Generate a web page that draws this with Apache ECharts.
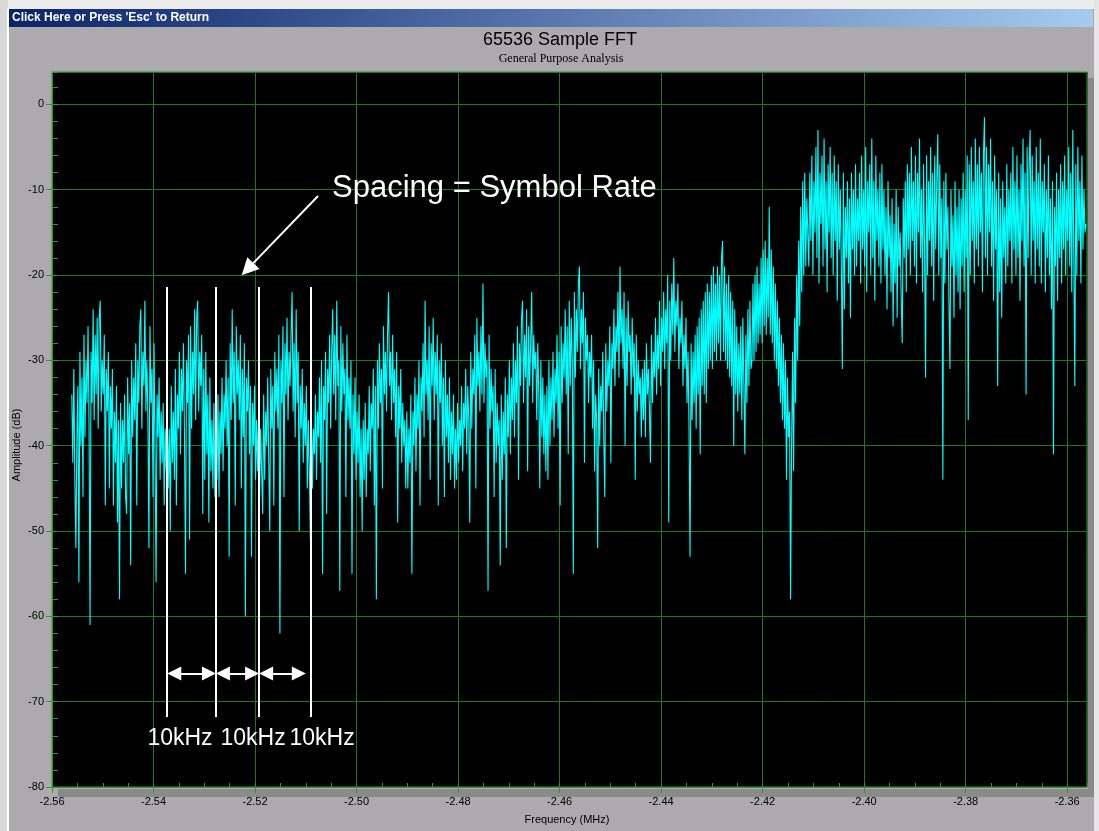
<!DOCTYPE html>
<html><head><meta charset="utf-8">
<script src="https://cdn.jsdelivr.net/npm/echarts@6/dist/echarts.min.js"></script>
<style>html,body{margin:0;padding:0;background:#acaaac;}#c{width:1099px;height:831px;}</style>
</head><body><div id="c"></div>
<script>
// FFT bins: frequency of bin i = FREQ_START + i * FREQ_STEP (MHz)
const FREQ_START = -2.5561;
const FREQ_STEP = 0.0002;

// amplitude (dB), left to right
const ampSegA = [
 -34,-42,-31,-44,-52,-39,-33,-56,-29,-40,-32,-46,-27,-39,-30,-35,-26,-38,-61,-29,-35,-24,-37,-27,-34,-25,-38,-25,-23,-36,-30,-34,-27,-47,-31,-36,-29,-45,-33,-38,-31,-47,-36,-42,-33,-49,-37,
 -58,-35,-45,-37,-42,-34,-46,-48,-32,-41,-35,-54,-30,-39,-32,-37,-28,-47,-30,-35,-26,-24,-38,-29,-33,-23,-36,-30,-37,-52,-26,-35,-31,-46,-28,-41,-56,-34,-39,-32,-44,-36,-42,-35,-47,-38,-43,
 -36,-45,-38,-50,-33,-42,-36,-44,-31,-47,-34,-38,-29,-41,-31,-36,-28,-39,-55,-30,-35,-27,-51,-26,-38,-29,-34,-24,-37,-25,-23,-36,-29,-33,-27,-48,-31,-44,-29,-41,-34,-49,-32,-43,-37,-45,-35,-46,
 -38,-44,-34,-46,-36,-41,-32,-43,-34,-38,-30,-40,-32,-53,-28,-37,-24,-35,-29,-47,-26,-34,-30,-37,-27,-45,-31,-39,-28,-60,-32,-36,-30,-41,-33,-53,-35,-40,-33,-44,-37,-43
];
const ampSegB = [
 -36,-46,-38,-43,-48,-34,-44,-36,-40,-32,-42,-50,-31,-38,-33,-47,-29,-36,-31,-38,-27,-62,-30,-35,-26,-46,-28,-34,-25,-37,-29,-33,-27,-22,-36,-28,-39,-24,-35,-29,-50,-33,-38,-31,-42,-35,-40,-33,-45,-37,-43,
 -51,-36,-45,-38,-41,-34,-44,-36,-39,-32,-42,-30,-55,-33,-37,-29,-48,-31,-35,-27,-38,-29,-24,-34,-27,-37,-23,-33,-30,-57,-26,-36,-28,-34,-31,-46,-27,-37,-32,-38,-30,-55,-34,-41,-32,-44,-36,-42,-34,-46,-38,
 -50,-37,-44,-35,-46,-38,-41,-33,-43,-35,-38,-31,-47,-33,-58,-30,-38,-28,-35,-31,-45,-26,-34,-29,-36,-27,-22,-33,-29,-37,-27,-35,-31,-39,-29,-49,-33,-38,-31,-42,-35,-40,-37,-45,
 -36,-45,-38,-42,-34,-55,-36,-40,-32,-43,-34,-38,-30,-47,-32,-36,-28,-39,-23,-34,-30,-37,-26,-44,-28,-33,-25,-37,-29,-34,-27,-47,-30,-35,-28,-40,-32,-46,-30,-39,-34,-42,-32,-44,-36,-41,-34,-45,-38
];
const ampSegC = [
 -44,-35,-42,-37,-40,-33,-43,-35,-38,-31,-41,-33,-37,-49,-29,-38,-31,-34,-27,-45,-25,-33,-29,-36,-26,-34,-21,-35,-28,-32,-30,-57,-27,-38,-31,-36,-33,-46,-31,-42,-35,-40,-37,
 -54,-34,-44,-36,-41,-32,-52,-34,-39,-30,-41,-32,-37,-28,-39,-30,-35,-26,-44,-28,-33,-25,-23,-35,-27,-32,-24,-43,-26,-33,-28,-22,-35,-27,-31,-29,-37,-28,-34,-45,-30,-39,-32,-41,-34,-43,
 -33,-44,-30,-40,-32,-37,-29,-39,-31,-35,-27,-38,-29,-47,-26,-35,-28,-32,-24,-34,-26,-41,-23,-33,-25,-30,-55,-22,-32,-24,-29,-21,-19,-31,-24,-28,-22,-42,-25,-30,-27,-35,-29,-32,-27,-38,-30,-43,-34,
 -37,-52,-31,-40,-33,-36,-29,-39,-46,-28,-36,-30,-33,-26,-42,-28,-31,-24,-33,-26,-29,-22,-32,-19,-28,-24,-31,-22,-40,-25,-33,-23,-29,-27,-34,-25,-32,-28,-44,-27,-36,-30,-34,-32,-39,-31
];
const ampSegD = [
 -37,-30,-39,-28,-34,-31,-36,-42,-27,-35,-29,-32,-25,-34,-27,-31,-23,-33,-25,-29,-22,-31,-24,-28,-20,-49,-23,-30,-21,-27,-18,-29,-23,-26,-21,-31,-25,-28,-23,-33,-27,-31,-25,-35,-29,-38,
 -53,-28,-37,-29,-35,-27,-38,-26,-34,-25,-41,-24,-33,-23,-34,-22,-35,-21,-31,-22,-30,-20,-31,-19,-29,-21,-30,-19,-28,-20,-30,-18,-16,-29,-19,-30,-21,-31,-20,-32,-22,-33,-23,-40,-24,-34,-26,-36,-28,
 -34,-26,-37,-25,-33,-41,-27,-35,-24,-33,-23,-31,-30,-21,-30,-20,-29,-19,-28,-21,-27,-18,-28,-17,-26,-16,-27,-18,-25,-12,-27,-17,-28,-19,-30,-21,-31,-23,-33,-25,-35,-27,-37,-28,-38,-30,-44,-32,-39,
 -36,-58,-40,-29,-43,-25,-35,-20,-30,-16,-26,-12,-22,-9,-20,-8,-19,-11
];
const ampSegE = [
 -11,-19,-8,-16,-6,-20,-9,-15,-5,-18,-3,-21,-8,-14,-6,-19,-4,-17,-9,-22,-7,-15,-5,-18,-8,
 -20,-6,-16,-9,-23,-7,-17,-10,-19,-31,-8,-24,-12,-18,-9,-21,-11,-25,-8,-17,-10,-20,-7,-19,-11,
 -16,-8,-21,-6,-17,-10,-19,-5,-22,-9,-15,-7,-20,-4,-18,-9,-23,-6,-16,-10,-19,-8,-21,-7,-17,
 -10,-20,-12,-24,-9,-18,-13,-22,-11,-26,-14,-21,-10,-25,-12,-19,-15,-23,-28,-11,-18,-9,-22,-7,-17,
 -8,-20,-5,-16,-9,-19,-6,-21,-8,-15,-4,-18,-10,-22,-7,-17,-32,-6,-20,-9,-16,-5,-19,-8,-23,
 -6,-17,-9,-3.5,-20,-7,-18,-11,-44,-9,-21,-8,-17,-12,-23,-31,-10,-19,-13,-25,-9,-20,-12,-22,-10,
 -24,-11,-19,-8,-22,-10,-18,-6,-37,-7,-20,-5,-16,-9,-21,-4,-17,-7,-19,-5,-15,-8,-22,-6,-1.5,
 -18,-5,-20,-7,-15,-4,-19,-9,-23,-6,-17,-10,-33,-8,-22,-11,-25,-9,-18,-12,-21,-7,-19,-10,-16,
 -8,-21,-5,-17,-9,-20,-6,-18,-10,-23,-7,-16,-4,-19,-8,-34,-5,-18,-7,-3,-20,-6,-16,-9,-21,
 -5,-17,-8,-19,-4,-21,-9,-15,-7,-22,-10,-18,-6,-20,-11,-24,-9,-41,-12,-19,-8,-23,-10,-18,-7,
 -21,-9,-17,-6,-20,-10,-16,-5,-19,-8,-22,-3,-18,-33,-7,-20,-5,-16,-9,-21,-6,-17,-10,-15,-14
];

// axes
const X_MIN = -2.56, X_MAX = -2.3561, X_INTERVAL = 0.02, X_MINOR = 0.005;
const Y_MIN = -80, Y_MAX = 3.8, Y_INTERVAL = 10, Y_MINOR = 2;

// annotation (data coordinates)
const markerFreqs = [-2.5373, -2.5277, -2.5192, -2.5090];
const markerSpan = [-21.4, -71.8];
const arrowLevel = -66.7;
const arrowEnds = [[-2.5373, -2.5277], [-2.5277, -2.5192], [-2.5192, -2.5100]];
const spacingLabels = ['10kHz', '10kHz', '10kHz'];
const labelFreqs = [-2.53478, -2.52039, -2.50680];
const labelLevel = -74.3;
const noteText = 'Spacing = Symbol Rate';
const noteAnchor = [-2.50483, -9.8];
const noteArrow = [[-2.50759, -10.73], [-2.52148, -19.31]];

const amp = [].concat(ampSegA, ampSegB, ampSegC, ampSegD, ampSegE);
const seriesData = amp.map((v, i) => [FREQ_START + i * FREQ_STEP, v]);

const AX = '#2f9a2f', GRIDC = '#207520', FONT = 'Liberation Sans';
const HEAD = 14, INSET = 0.00138;

const isMult = (v, s) => Math.abs(v / s - Math.round(v / s)) < 1e-6;

const markLines = [];
markerFreqs.forEach(f => markLines.push([{coord: [f, markerSpan[0]], symbol: 'none'}, {coord: [f, markerSpan[1]], symbol: 'none'}]));
arrowEnds.forEach(([a, b]) => markLines.push([
  {coord: [a + INSET, arrowLevel], symbol: 'triangle', symbolSize: HEAD},
  {coord: [b - INSET, arrowLevel], symbol: 'triangle', symbolSize: HEAD}]));
markLines.push([{coord: noteArrow[0], symbol: 'none'}, {coord: noteArrow[1], symbol: 'triangle', symbolSize: 17}]);

const option = {
  animation: false,
  backgroundColor: '#acaaac',
  grid: {left: 52, top: 72, right: 12, bottom: 44, show: true, backgroundColor: '#000', borderColor: AX, borderWidth: 1},
  xAxis: [{
    type: 'value', min: X_MIN, max: X_MAX, interval: X_INTERVAL, position: 'bottom',
    axisLine: {onZero: false, lineStyle: {color: AX}}, axisTick: {length: 6, lineStyle: {color: AX}},
    axisLabel: {color: '#000', fontSize: 11, fontFamily: FONT, margin: 9, showMaxLabel: false,
      formatter: v => isMult(v, X_INTERVAL) ? v.toFixed(2) : ''},
    splitLine: {show: true, lineStyle: {color: GRIDC}}
  }, {
    type: 'value', min: X_MIN, max: X_MAX, interval: X_MINOR, position: 'bottom',
    axisLine: {show: false, onZero: false}, axisTick: {inside: true, length: 4, lineStyle: {color: AX}},
    axisLabel: {show: false}, splitLine: {show: false}
  }],
  yAxis: [{
    type: 'value', min: Y_MIN, max: Y_MAX, interval: Y_INTERVAL, position: 'left',
    axisLine: {show: true, onZero: false, lineStyle: {color: AX}}, axisTick: {show: true, length: 6, lineStyle: {color: AX}},
    axisLabel: {color: '#000', fontSize: 11, fontFamily: FONT, margin: 8, showMaxLabel: false,
      formatter: v => isMult(v, Y_INTERVAL) ? String(Math.round(v)) : ''},
    splitLine: {show: true, lineStyle: {color: GRIDC}}
  }, {
    type: 'value', min: Y_MIN, max: Y_MAX, interval: Y_MINOR, position: 'left',
    axisLine: {show: false, onZero: false}, axisTick: {show: true, inside: true, length: 6, lineStyle: {color: AX}},
    axisLabel: {show: false}, splitLine: {show: false}
  }],
  series: [{
    type: 'line', data: seriesData, showSymbol: false, symbol: 'none',
    lineStyle: {color: '#00ffff', width: 1.1}, silent: true, emphasis: {disabled: true}, z: 3
  }, {
    type: 'line', data: [], silent: true,
    markLine: {silent: true, animation: false, label: {show: false}, emphasis: {disabled: true},
      lineStyle: {color: '#ffffff', width: 2, type: 'solid'}, data: markLines},
    z: 5
  }]
};

const chart = echarts.init(document.getElementById('c'));
chart.setOption(option);

const P = (f, v) => chart.convertToPixel({gridIndex: 0}, [f, v]);
const graphics = [
  {type: 'rect', shape: {x: 0, y: 0, width: 1099, height: 9}, style: {fill: '#ececec'}, silent: true},
  {type: 'rect', shape: {x: 0, y: 0, width: 8, height: 831}, style: {fill: '#d8d8d8'}, silent: true},
  {type: 'rect', shape: {x: 7, y: 9, width: 2, height: 822}, style: {fill: '#ffffff'}, silent: true},
  {type: 'rect', shape: {x: 1094, y: 0, width: 5, height: 831}, style: {fill: '#e6e6e6'}, silent: true},
  {type: 'rect', shape: {x: 9, y: 9, width: 1084, height: 18}, style: {fill: new echarts.graphic.LinearGradient(0, 0, 1, 0, [{offset: 0, color: '#0a246a'}, {offset: 1, color: '#a6caf0'}])}, silent: true},
  {type: 'text', x: 12, y: 18, style: {text: "Click Here or Press 'Esc' to Return", fill: '#fff', font: 'bold 12px "Liberation Sans"', verticalAlign: 'middle'}, silent: true},
  {type: 'rect', shape: {x: 1088, y: 78, width: 6, height: 719}, style: {fill: '#8a8a8a'}, silent: true},
  {type: 'rect', shape: {x: 58, y: 789, width: 1036, height: 8}, style: {fill: '#8a8a8a'}, silent: true},
  {type: 'text', x: 560, y: 40, style: {text: '65536 Sample FFT', fill: '#000', font: '18px "Liberation Sans"', align: 'center', verticalAlign: 'middle'}, silent: true},
  {type: 'text', x: 561, y: 59, style: {text: 'General Purpose Analysis', fill: '#000', font: '12px "Liberation Serif"', align: 'center', verticalAlign: 'middle'}, silent: true},
  {type: 'text', x: 17, y: 445, rotation: Math.PI / 2, style: {text: 'Amplitude (dB)', fill: '#000', font: '11px "Liberation Sans"', align: 'center', verticalAlign: 'middle'}, silent: true},
  {type: 'text', x: 567, y: 820, style: {text: 'Frequency (MHz)', fill: '#000', font: '11px "Liberation Sans"', align: 'center', verticalAlign: 'middle'}, silent: true}
];
const na = P(noteAnchor[0], noteAnchor[1]);
graphics.push({type: 'text', x: na[0], y: na[1], z: 10, style: {text: noteText, fill: '#fff', font: '31px "Liberation Sans"', align: 'left', verticalAlign: 'middle'}, silent: true});
labelFreqs.forEach((f, k) => {
  const p = P(f, labelLevel);
  graphics.push({type: 'text', x: p[0], y: p[1], z: 10, style: {text: spacingLabels[k], fill: '#fff', font: '23px "Liberation Sans"', align: 'center', verticalAlign: 'middle'}, silent: true});
});
chart.setOption({graphic: graphics});
</script></body></html>
